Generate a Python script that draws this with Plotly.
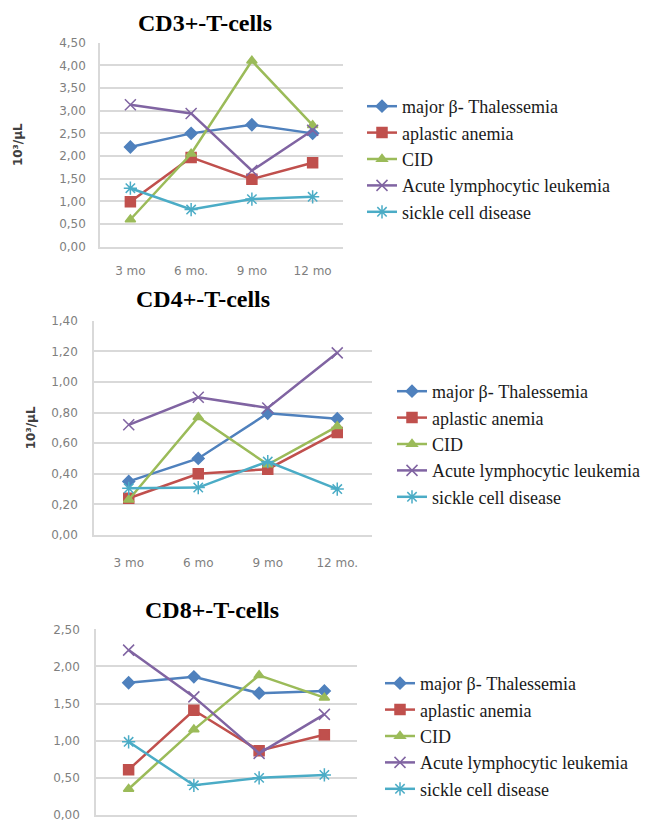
import plotly.graph_objects as go

categories = ["3 mo", "6 mo", "9 mo", "12 mo"]
cd3_xlabels = ["3 mo", "6 mo.", "9 mo", "12 mo"]
cd4_xlabels = ["3 mo", "6 mo", "9 mo", "12 mo."]

series_names = ["major β- Thalessemia", "aplastic anemia", "CID",
                "Acute lymphocytic leukemia", "sickle cell disease"]

cd3_thal = [2.20, 2.50, 2.69, 2.50]
cd3_aplastic = [0.99, 1.97, 1.49, 1.85]
cd3_cid = [0.60, 2.05, 4.10, 2.68]
cd3_all = [3.13, 2.94, 1.68, 2.57]
cd3_sickle = [1.29, 0.82, 1.05, 1.10]

cd4_thal = [0.35, 0.50, 0.795, 0.76]
cd4_aplastic = [0.24, 0.40, 0.43, 0.67]
cd4_cid = [0.23, 0.77, 0.46, 0.71]
cd4_all = [0.72, 0.90, 0.83, 1.19]
cd4_sickle = [0.305, 0.31, 0.48, 0.30]

cd8_thal = [1.78, 1.86, 1.64, 1.67]
cd8_aplastic = [0.61, 1.41, 0.865, 1.08]
cd8_cid = [0.35, 1.15, 1.88, 1.58]
cd8_all = [2.22, 1.59, 0.83, 1.355]
cd8_sickle = [0.985, 0.40, 0.50, 0.54]

cd3_ticks = [0, 0.5, 1.0, 1.5, 2.0, 2.5, 3.0, 3.5, 4.0, 4.5]
cd3_ticktext = ["0,00", "0,50", "1,00", "1,50", "2,00", "2,50", "3,00", "3,50", "4,00", "4,50"]
cd4_ticks = [0, 0.2, 0.4, 0.6, 0.8, 1.0, 1.2, 1.4]
cd4_ticktext = ["0,00", "0,20", "0,40", "0,60", "0,80", "1,00", "1,20", "1,40"]
cd8_ticks = [0, 0.5, 1.0, 1.5, 2.0, 2.5]
cd8_ticktext = ["0,00", "0,50", "1,00", "1,50", "2,00", "2,50"]

colors = ["#4F81BD", "#C0504D", "#9BBB59", "#8064A2", "#4BACC6"]
symbols = ["diamond", "square", "triangle-up", "x-thin-open", "asterisk-open"]
msizes = [9, 10, 9, 11, 11]

panels = [
    ("CD3+-T-cells", [cd3_thal, cd3_aplastic, cd3_cid, cd3_all, cd3_sickle], "legend"),
    ("CD4+-T-cells", [cd4_thal, cd4_aplastic, cd4_cid, cd4_all, cd4_sickle], "legend2"),
    ("CD8+-T-cells", [cd8_thal, cd8_aplastic, cd8_cid, cd8_all, cd8_sickle], "legend3"),
]

SERIF = "Liberation Serif, Times New Roman, DejaVu Serif, serif"

fig = go.Figure()
for p, (title, data, leg) in enumerate(panels):
    xa = "x" if p == 0 else f"x{p+1}"
    ya = "y" if p == 0 else f"y{p+1}"
    for i, vals in enumerate(data):
        fig.add_trace(go.Scatter(
            x=categories, y=vals, name=series_names[i],
            mode="lines+markers", xaxis=xa, yaxis=ya, legend=leg,
            legendgroup=f"p{p}_{i}",
            line=dict(color=colors[i], width=2.5),
            marker=dict(symbol=symbols[i], size=msizes[i], color=colors[i],
                        line=dict(color=colors[i], width=1.5)),
        ))

W, H = 649, 829
def xd(a, b):
    return [a / W, b / W]
def yd(top, bottom):
    return [1 - bottom / H, 1 - top / H]

grid = "#D9D9D9"
tickfont = dict(family="DejaVu Sans", size=12, color="#7F7F7F")
common_x = dict(type="category", range=[-0.5, 3.5], showgrid=False, automargin=False,
                showline=True, linecolor=grid, linewidth=1.5, ticks="",
                tickfont=tickfont, tickvals=categories, fixedrange=True)
common_y = dict(showgrid=True, gridcolor=grid, gridwidth=1.5, zeroline=False, automargin=False,
                showline=True, linecolor=grid, linewidth=1.5, ticks="",
                tickfont=tickfont)
ytitle_font = dict(family="DejaVu Sans", size=12, color="#404040")

layout = dict(
    width=W, height=H, margin=dict(l=0, r=0, t=0, b=0, autoexpand=False),
    font=dict(family=SERIF, size=18, color="#1a1a1a"),
    paper_bgcolor="white", plot_bgcolor="white", showlegend=True,
    xaxis=dict(common_x, domain=xd(100, 343), anchor="y", ticktext=cd3_xlabels,
               ticklabelstandoff=12),
    yaxis=dict(common_y, domain=yd(42.7, 246.7), anchor="x", range=[0, 4.5],
               tickvals=cd3_ticks, ticktext=cd3_ticktext, ticklabelstandoff=10,
               title=dict(text="<b>10³/μL</b>", font=ytitle_font, standoff=34)),
    xaxis2=dict(common_x, domain=xd(94, 372), anchor="y2", ticktext=cd4_xlabels,
                ticklabelstandoff=16),
    yaxis2=dict(common_y, domain=yd(320.7, 535), anchor="x2", range=[0, 1.4],
                tickvals=cd4_ticks, ticktext=cd4_ticktext, ticklabelstandoff=12,
                title=dict(text="<b>10³/μL</b>", font=ytitle_font, standoff=13)),
    xaxis3=dict(common_x, domain=xd(96, 357), anchor="y3", showticklabels=False),
    yaxis3=dict(common_y, domain=yd(629.3, 815), anchor="x3", range=[0, 2.5],
                tickvals=cd8_ticks, ticktext=cd8_ticktext, ticklabelstandoff=12),
)

legfont = dict(family=SERIF, size=18, color="#1a1a1a")
def legend_at(x_px, y_px):
    return dict(x=x_px / W, y=1 - y_px / H, xanchor="left", yanchor="top",
                font=legfont, bgcolor="rgba(0,0,0,0)", tracegroupgap=0,
                itemwidth=30, traceorder="grouped")
layout["legend"] = legend_at(362, 88)
layout["legend2"] = legend_at(392, 373)
layout["legend3"] = legend_at(380, 665)

titlefont = dict(family=SERIF, size=24, color="black")
layout["annotations"] = [
    dict(text="<b>CD3+-T-cells</b>", x=205 / W, y=1 - 23 / H, xref="paper", yref="paper",
         showarrow=False, font=titlefont, xanchor="center", yanchor="middle"),
    dict(text="<b>CD4+-T-cells</b>", x=203 / W, y=1 - 299 / H, xref="paper", yref="paper",
         showarrow=False, font=titlefont, xanchor="center", yanchor="middle"),
    dict(text="<b>CD8+-T-cells</b>", x=212 / W, y=1 - 610 / H, xref="paper", yref="paper",
         showarrow=False, font=titlefont, xanchor="center", yanchor="middle"),
]

fig.update_layout(**layout)
fig.write_html("out.html")
